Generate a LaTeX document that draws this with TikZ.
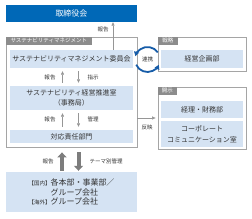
\documentclass[tikz,border=0pt]{standalone}
\usepackage{fontspec}
\setmainfont{Noto Sans CJK JP}
\usetikzlibrary{arrows.meta, positioning, calc}
\definecolor{boardblue}{RGB}{0,104,183}
\definecolor{unitblue}{RGB}{213,227,243}
\definecolor{tabgray}{RGB}{140,140,140}
\definecolor{framegray}{RGB}{165,165,165}
\definecolor{linkblue}{RGB}{22,92,168}
\definecolor{arrowgray}{RGB}{150,150,150}
\definecolor{bigarrowgray}{RGB}{125,125,125}
\tikzset{
  boardbox/.style={
    rectangle, inner sep=0pt,
    minimum width=131pt, minimum height=17pt,
    fill=boardblue, text=white,
    font=\fontsize{8}{9}\selectfont
  },
  unitbox/.style={
    rectangle, inner sep=0pt, align=center,
    minimum width=#1, fill=unitblue, text=black!80,
    font=\fontsize{7}{10}\selectfont
  },
  framebox/.style={
    rectangle, inner sep=0pt,
    draw=framegray, line width=0.8pt
  },
  tabbox/.style={
    rectangle, inner sep=1.5pt, anchor=north west,
    minimum height=8pt, fill=tabgray, text=white,
    font=\fontsize{5.5}{6}\selectfont
  },
  smalllabel/.style={font=\fontsize{5.5}{6}\selectfont, text=black!80},
  flowarrow/.style={-{Triangle[length=3.5pt,width=3pt]}, line width=0.5pt,
    color=arrowgray},
  bigarrow/.style={-{Triangle[length=5pt,width=9pt]}, line width=4pt,
    color=bigarrowgray},
  linkarrow/.style={-{Triangle[length=4.5pt,width=5pt]}, line width=1.8pt,
    color=linkblue},
}
\begin{document}
\begin{tikzpicture}[x=1pt, y=1pt]
  \useasboundingbox[fill=white] (0,0) rectangle (252,219);
  % left column
  \node[boardbox] (board) at (71.5,205.5) {取締役会};
  \node[framebox, minimum width=131pt, minimum height=110pt]
       (smframe) at (71.5,127) {};
  \node[tabbox, minimum width=86pt] (smtab) at (smframe.north west)
       {サステナビリティマネジメント};
  \node[unitbox=123pt, minimum height=18pt] (committee) at (71.5,160)
       {サステナビリティマネジメント委員会};
  \node[unitbox=123pt, minimum height=24pt] (office) at (71.5,121)
       {サステナビリティ経営推進室\\（事務局）};
  \node[unitbox=123pt, minimum height=13pt] (dept) at (71.5,82.5)
       {対応責任部門};
  \node[unitbox=131pt, minimum height=40pt, align=left,
        font=\fontsize{8}{9.5}\selectfont] (group) at (71.5,27)
       {{\fontsize{5.5}{6}\selectfont【国内】}各本部・事業部／\\
        \hspace*{22pt}グループ会社\\
        {\fontsize{5.5}{6}\selectfont【海外】}グループ会社};
  % right column
  \node[framebox, minimum width=88pt, minimum height=34pt]
       (stratframe) at (202,165) {};
  \node[tabbox, minimum width=20pt] (strattab) at (stratframe.north west) {戦略};
  \node[unitbox=82pt, minimum height=18pt] (planning) at (202,160) {経営企画部};
  \node[framebox, minimum width=88pt, minimum height=62pt]
       (discframe) at (202,101) {};
  \node[tabbox, minimum width=19pt] (disctab) at (discframe.north west) {開示};
  \node[unitbox=82pt, minimum height=17pt] (finance) at (202,109.5) {経理・財務部};
  \node[unitbox=82pt, minimum height=26pt, font=\fontsize{7}{11}\selectfont]
       (corpcomm) at (202,85) {コーポレート\\コミュニケーション室};
  % connectors
  \draw[flowarrow] ([xshift=41.5pt]committee.north) -- ([xshift=41.5pt]board.south);
  \node[smalllabel] (boardrep) at (103,190) {報告};
  \draw[flowarrow, shorten <=3pt, shorten >=3pt]
       ([xshift=-9pt]office.north) -- ([xshift=-9pt]committee.south);
  \draw[flowarrow, shorten <=3pt, shorten >=3pt]
       ([xshift=7pt]committee.south) -- ([xshift=7pt]office.north);
  \node[smalllabel] (officerep) at (50,142) {報告};
  \node[smalllabel] (officeins) at (93,142) {指示};
  \draw[flowarrow, shorten <=3pt, shorten >=3pt]
       ([xshift=-9pt]dept.north) -- ([xshift=-9pt]office.south);
  \draw[flowarrow, shorten <=3pt, shorten >=3pt]
       ([xshift=7pt]office.south) -- ([xshift=7pt]dept.north);
  \node[smalllabel] (deptrep) at (50,100) {報告};
  \node[smalllabel] (deptman) at (93,100) {管理};
  \draw[bigarrow, shorten <=1pt, shorten >=5pt]
       ([xshift=-9.5pt]group.north) -- ([xshift=-9.5pt]smframe.south);
  \draw[bigarrow, shorten <=5pt, shorten >=1pt]
       ([xshift=7pt]smframe.south) -- ([xshift=7pt]group.north);
  \node[smalllabel] (grouprep) at (48,58) {報告};
  \node[smalllabel, anchor=west] (groupman) at (86,58) {テーマ別管理};
  \draw[flowarrow, shorten >=2pt] (smframe.east |- discframe.west) -- (discframe.west);
  \node[smalllabel] (reflect) at (147,92) {反映};
  % cooperation
  \node[smalllabel] (link) at (147.5,159.5) {連携};
  \draw[linkarrow] ([shift={(35:12.5pt)}]link.center)
       arc[start angle=35, end angle=165, radius=12.5pt];
  \draw[linkarrow] ([shift={(205:12.5pt)}]link.center)
       arc[start angle=205, end angle=335, radius=12.5pt];
\end{tikzpicture}
\end{document}
